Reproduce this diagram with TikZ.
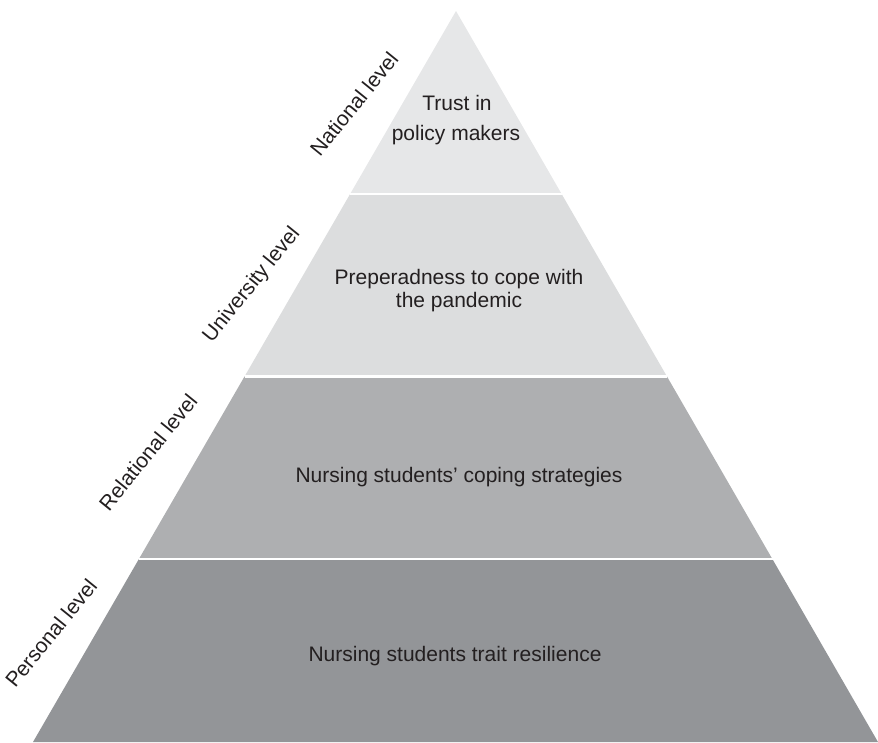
\documentclass[tikz,border=0pt]{standalone}
\usepackage{fontspec}
\setmainfont{Liberation Sans}
\usetikzlibrary{calc}
\definecolor{tierA}{HTML}{E6E7E8}
\definecolor{tierB}{HTML}{DCDDDE}
\definecolor{tierC}{HTML}{AEAFB1}
\definecolor{tierD}{HTML}{939598}
\definecolor{ink}{HTML}{231F20}
\begin{document}
\begin{tikzpicture}[x=1pt,y=-1pt,
  tiertext/.style={text=ink,font=\fontsize{21}{23}\selectfont,align=center,inner sep=0pt},
  levellabel/.style={text=ink,font=\fontsize{21}{23}\selectfont,rotate=51,inner sep=0pt},
  gap/.style={white,line width=2.2pt}]
\useasboundingbox (0,0) rectangle (878,742);
% pyramid corners
\coordinate (apex) at (456,11);
\coordinate (bl) at (33,742);
\coordinate (br) at (878,742);
% tier boundaries at quarter heights
\foreach \k/\t in {1/0.25,2/0.5,3/0.75}{
  \coordinate (l\k) at ($(apex)!\t!(bl)$);
  \coordinate (r\k) at ($(apex)!\t!(br)$);
}
% tiers, lightest at the top
\fill[tierA] (apex) -- (r1) -- (l1) -- cycle;
\fill[tierB] (l1) -- (r1) -- (r2) -- (l2) -- cycle;
\fill[tierC] (l2) -- (r2) -- (r3) -- (l3) -- cycle;
\fill[tierD] (l3) -- (r3) -- (br) -- (bl) -- cycle;
% white separators between tiers
\foreach \k in {1,2,3}{\draw[gap] (l\k) -- (r\k);}
% tier contents
\node[tiertext,anchor=base] (trust) at (457,110) {Trust in};
\node[tiertext,anchor=base] (policy) at (456,140) {policy makers};
\node[tiertext,anchor=base] (prep) at (459,307) {Preperadness to cope with\\the pandemic};
\node[tiertext,anchor=base] (coping) at (459,482) {Nursing students\char"27\ coping strategies};
\node[tiertext,anchor=base] (trait) at (455,661) {Nursing students trait resilience};
% level labels beside the left edge
\node[levellabel] (national) at (354,104) {National level};
\node[levellabel] (university) at (252,285) {University level};
\node[levellabel] (relational) at (148,452) {Relational level};
\node[levellabel] (personal) at (51,633) {Personal level};
\end{tikzpicture}
\end{document}
